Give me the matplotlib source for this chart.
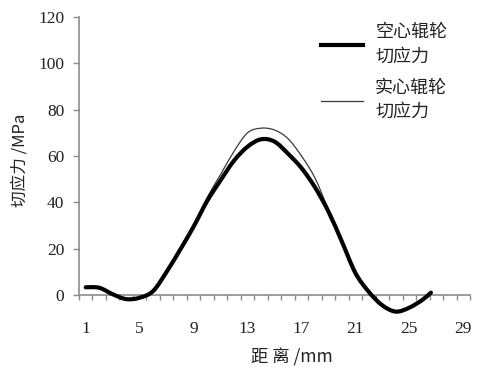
import numpy as np
import matplotlib
matplotlib.use("Agg")
import matplotlib.pyplot as plt
from matplotlib.path import Path
from matplotlib.patches import PathPatch
from matplotlib.lines import Line2D

# ---- data ----
distance = [1, 2, 3, 4, 5, 6, 7, 8, 9, 10, 11, 12, 13, 14, 15, 16, 17, 18, 19, 20, 21, 22, 23, 24, 25, 26, 26.6]
hollow = [3.3, 3.1, 0.3, -1.8, -1.2, 1.7, 10.0, 19.5, 29.5, 40.5, 49.5, 58.0, 64.0, 67.2, 66.2, 61.0, 54.8, 46.5, 36.0, 23.0, 9.5, 1.3, -4.5, -7.2, -5.5, -2.0, 1.0]
solid = [3.3, 3.1, 0.3, -1.8, -1.2, 1.7, 10.0, 19.5, 29.8, 42.0, 52.0, 62.0, 70.0, 72.0, 71.2, 67.5, 60.0, 50.5, 36.8, 23.0, 9.5, 1.3, -4.5, -7.2, -5.5, -2.0, 1.0]
series_names = ["空心辊轮\n切应力", "实心辊轮\n切应力"]
xtick_vals = [1, 5, 9, 13, 17, 21, 25, 29]
ytick_vals = [0, 20, 40, 60, 80, 100, 120]

cjk = ['Noto Sans CJK SC', 'DejaVu Sans']
serif = ['Liberation Serif', 'DejaVu Serif']


def smooth_path(x, y):
    """Catmull-Rom style cubic Bezier path through the data points (like a smoothed line)."""
    x = np.asarray(x, float); y = np.asarray(y, float)
    n = len(x)
    verts = [(x[0], y[0])]
    codes = [Path.MOVETO]
    for i in range(n - 1):
        x0, y0 = (x[i - 1], y[i - 1]) if i > 0 else (x[i], y[i])
        x1, y1 = x[i], y[i]
        x2, y2 = x[i + 1], y[i + 1]
        x3, y3 = (x[i + 2], y[i + 2]) if i + 2 < n else (x2, y2)
        t = 1 / 6
        c1 = (x1 + (x2 - x0) * t, y1 + (y2 - y0) * t)
        c2 = (x2 - (x3 - x1) * t, y2 - (y3 - y1) * t)
        verts += [c1, c2, (x2, y2)]
        codes += [Path.CURVE4] * 3
    return Path(verts, codes)


fig = plt.figure(figsize=(4.78, 3.67), dpi=100)
ax = fig.add_axes([79 / 478, (367 - 318.1) / 367, (470 - 79) / 478, (318.1 - 17) / 367])
ax.set_xlim(0.5, 29.5)
ax.set_ylim(-10, 120)

thin = PathPatch(smooth_path(distance, solid), fill=False, edgecolor='#3a3a3a',
                 linewidth=0.9, capstyle='round', joinstyle='round', zorder=2)
thick = PathPatch(smooth_path(distance, hollow), fill=False, edgecolor='black',
                  linewidth=3.0, capstyle='round', joinstyle='round', zorder=3)
ax.add_patch(thin)
ax.add_patch(thick)

axis_color = '#8c8c8c'
for s in ['top', 'right']:
    ax.spines[s].set_visible(False)
ax.spines['bottom'].set_position(('data', 0))
ax.spines['left'].set_bounds(0, 120)
ax.spines['bottom'].set_color(axis_color)
ax.spines['left'].set_color(axis_color)
ax.spines['bottom'].set_linewidth(1.2)
ax.spines['left'].set_linewidth(1.2)

ax.set_yticks(ytick_vals)
ax.set_yticklabels([str(v) for v in ytick_vals], fontfamily=serif, fontsize=12.5, color='#222222')
ax.tick_params(axis='y', direction='out', length=4.5, width=1.0, color=axis_color, pad=6)

ax.set_xticks(xtick_vals)
ax.set_xticklabels([str(v) for v in xtick_vals], fontfamily=serif, fontsize=12.5, color='#222222')
ax.set_xticks(np.arange(0.5, 30, 1.0), minor=True)
ax.tick_params(axis='x', which='major', length=0, pad=19)
ax.tick_params(axis='x', which='minor', direction='out', length=3.5, width=1.0, color=axis_color)

fig.text(20 / 478, 1 - 160 / 367, "切应力 /MPa", rotation=90, ha='center', va='center',
         fontsize=12, family=cjk, color='#222222')
fig.text(292 / 478, 1 - 357 / 367, "距 离 /mm", ha='center', va='center',
         fontsize=12.5, family=cjk, color='#222222')

handles = [Line2D([], [], color='black', linewidth=3.0),
           Line2D([], [], color='#3a3a3a', linewidth=0.9)]
leg = ax.legend(handles, series_names, loc='upper left', bbox_to_anchor=(321 / 478, 1 - 23 / 367),
                bbox_transform=fig.transFigure, frameon=False, prop={'family': cjk, 'size': 13},
                handlelength=2.3, handletextpad=0.7, labelspacing=0.75, borderpad=0, borderaxespad=0)
for t in leg.get_texts():
    t.set_color('#222222')
    t.set_linespacing(1.45)

fig.savefig('out.png', dpi=100)
